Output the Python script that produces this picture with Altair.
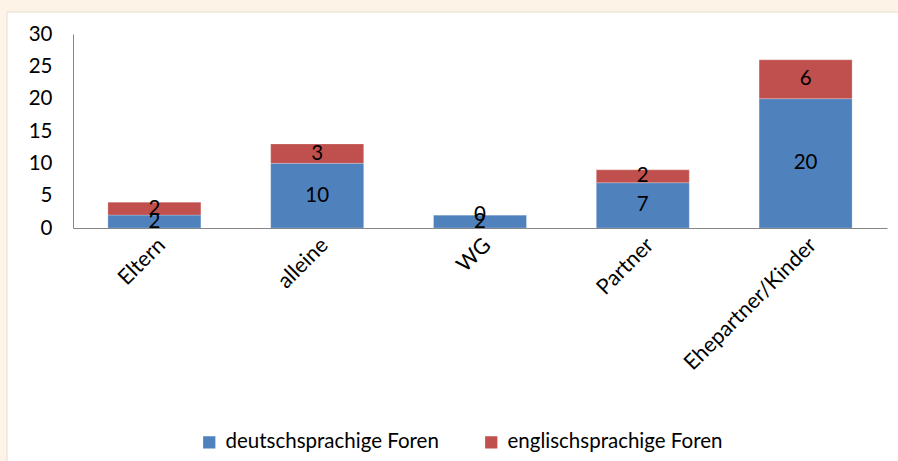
import altair as alt
import pandas as pd

categories = ["Eltern", "alleine", "WG", "Partner", "Ehepartner/Kinder"]
deutsch = [2, 10, 2, 7, 20]
englisch = [2, 3, 0, 2, 6]
series = ["deutschsprachige Foren", "englischsprachige Foren"]
colors = ["#4F81BD", "#C0504D"]
y_ticks = [0, 5, 10, 15, 20, 25, 30]

rows = []
for i, c in enumerate(categories):
    rows.append({"cat": c, "series": series[0], "value": deutsch[i], "ord": 0})
    rows.append({"cat": c, "series": series[1], "value": englisch[i], "ord": 1})
df = pd.DataFrame(rows)

FONT = "Lato"
FS = 20.5

x_axis = alt.Axis(title=None, labelAngle=-45, ticks=False, domainColor="#868686",
                  labelFontSize=21.5, labelFont=FONT, labelColor="black",
                  labelPadding=6, zindex=1, labelLimit=400)
y_axis = alt.Axis(title=None, values=y_ticks, ticks=False, grid=False,
                  domainColor="#868686", labelFontSize=FS, labelFont=FONT,
                  labelColor="black", labelPadding=21, zindex=1,
                  labelOverlap=False)
x_scale = alt.Scale(paddingInner=0.43, paddingOuter=0.215)
y_scale = alt.Scale(domain=[0, 30])

bg = alt.Chart(pd.DataFrame({"a": [0]})).mark_rect(
    color="white", stroke="#E6DDCC", strokeWidth=1
).encode(x=alt.value(-66), x2=alt.value(900), y=alt.value(-22), y2=alt.value(500))

base = alt.Chart(df).transform_stack(
    stack="value", groupby=["cat"], as_=["y0", "y1"],
    sort=[alt.SortField("ord", order="ascending")]
).transform_calculate(mid="(datum.y0 + datum.y1) / 2")

bars = base.mark_bar(size=93, stroke="white", strokeOpacity=0.4, strokeWidth=0.6).encode(
    x=alt.X("cat:N", sort=categories, scale=x_scale, axis=x_axis),
    y=alt.Y("y0:Q", scale=y_scale, axis=y_axis),
    y2="y1:Q",
    color=alt.Color("series:N", scale=alt.Scale(domain=series, range=colors),
                    legend=alt.Legend(title=None, orient="none", direction="horizontal",
                                      legendX=126, legendY=398, symbolType="square",
                                      symbolSize=150, symbolStrokeWidth=0,
                                      labelFontSize=FS, labelFont=FONT, labelColor="black",
                                      labelLimit=400, columnPadding=42, labelOffset=6,
                                      zindex=1)),
)

labels = base.mark_text(fontSize=FS, font=FONT, color="black").encode(
    x=alt.X("cat:N", sort=categories, scale=x_scale, axis=x_axis),
    y=alt.Y("mid:Q", scale=y_scale, axis=y_axis),
    text=alt.Text("value:Q"),
)

chart = alt.layer(bg, bars, labels).properties(
    width=814, height=194,
    autosize=alt.AutoSizeParams(type="none"),
    padding={"left": 73, "top": 34, "right": 11, "bottom": 233},
    background="#FDF3E6",
).configure_view(stroke=None)

chart.save("out.html", embed_options={"renderer": "svg", "actions": False})
